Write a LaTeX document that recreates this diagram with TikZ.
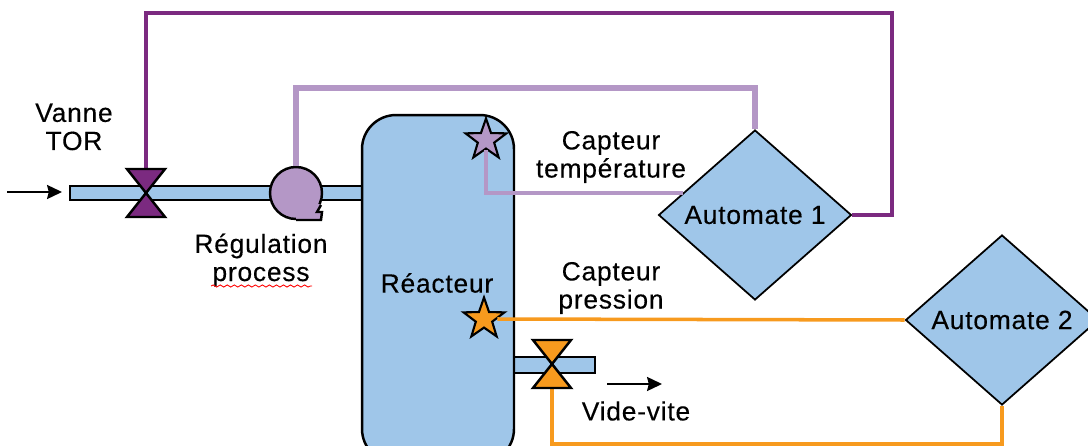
\documentclass[tikz,border=0pt]{standalone}
\usepackage{fontspec}
\setmainfont{Liberation Sans}[LetterSpace=3, FakeBold=0.25]
\usetikzlibrary{shapes.geometric, decorations.pathmorphing, arrows.meta}

\definecolor{bleu}{HTML}{9FC6E9}
\definecolor{violet}{HTML}{7B2A80}
\definecolor{mauve}{HTML}{B497C6}
\definecolor{orange}{HTML}{F79A1E}

\tikzset{
	contour/.style={draw=black, line width=1.4pt},
	texte/.style={align=center, inner sep=0pt, font=\fontsize{15}{16}\selectfont},
	liaison/.style={line width=2.6pt, line join=miter},
	automate/.style={diamond, draw=black, line width=1pt, fill=bleu, minimum width=3.86cm, minimum height=3.4cm, inner sep=0pt, texte},
	etoile/.style={star, star points=5, star point ratio=2.5, draw=black, line width=1.2pt, fill=#1, minimum size=0.86cm, inner sep=0pt},
	fleche/.style={-{Stealth[length=8.5pt, width=8pt, inset=1pt]}, line width=1.1pt, black},
	vanne/.pic={
		\draw[contour, fill=#1] (-19,-24) -- (19,-24) -- (-19,24) -- (19,24) -- cycle;
	}
}

\begin{document}
\begin{tikzpicture}[x=0.02cm, y=-0.02cm]
	\useasboundingbox (0,0) rectangle (1088,446);
	\clip (0,0) rectangle (1088,446);

	% tuyaux
	\draw[contour, fill=bleu] (70,186) rectangle (380,200);
	\draw[contour, fill=bleu] (500,357) rectangle (595,373);

	% reacteur
	\node[contour, fill=bleu, rounded corners=0.68cm, minimum width=3.04cm, minimum height=6.96cm, inner sep=0pt] (reacteur) at (438,289) {};
	\node[texte] (reacteurtxt) at (437,283) {Réacteur};

	% automates
	\node[automate] (A1) at (755,215) {Automate 1};
	\node[automate] (A2) at (1002,320) {Automate 2};

	% pompe et capteurs
	\node[circle, contour, fill=mauve, minimum size=1.04cm, inner sep=0pt] (pompe) at (296,193) {};
	\coordinate (P1) at (321,205);
	\coordinate (P2) at (317,212);
	\coordinate (P3) at (322,212);
	\coordinate (P4) at (321,220);
	\coordinate (P5) at (296,220);
	\fill[mauve] (pompe.center) -- (P1) -- (P2) -- (P3) -- (P4) -- (P5) -- cycle;
	\draw[contour] (P1) -- (P2) -- (P3) -- (P4) -- (P5);

	\node[etoile=mauve] (S1) at (486,140) {};
	\node[etoile=orange] (S2) at (484,319) {};

	\coordinate (V1) at (146,169);
	\coordinate (V2) at (552,388);
	\coordinate (A1g) at (683,193);

	% liaisons
	\draw[liaison, violet] (V1) |- (892,13) |- (A1.east);
	\draw[liaison, mauve, line width=3pt] (pompe.north) |- (755,88) -- (A1.north);
	\draw[liaison, mauve, line width=2.2pt] (S1.south) |- (A1g);
	\draw[liaison, orange, line width=2pt] (S2.east) -- (A2.west);
	\draw[liaison, orange, line width=2.3pt] (V2) |- (1002,444) -- (A2.south);

	% vannes
	\pic at (146,193) {vanne=violet};
	\pic at (552,364) {vanne=orange};

	% fleches
	\coordinate (E1) at (7,192);
	\coordinate (E2) at (62,192);
	\coordinate (F1) at (607,384);
	\coordinate (F2) at (662,384);
	\draw[fleche] (E1) -- (E2);
	\draw[fleche] (F1) -- (F2);

	% textes
	\node[texte] (vanne) at (74,127) {Vanne\\TOR};
	\node[texte] (regul) at (261,260) {Régulation\\process};
	\node[texte] (ctemp) at (611,157) {Capteur\\température};
	\node[texte] (cpres) at (611,288) {Capteur\\pression};
	\node[texte] (vide) at (636,411) {Vide-vite};
	\draw[red, line width=0.5pt, decorate, decoration={snake, amplitude=0.6pt, segment length=4pt}] (211,286) -- (312,286);
\end{tikzpicture}
\end{document}
